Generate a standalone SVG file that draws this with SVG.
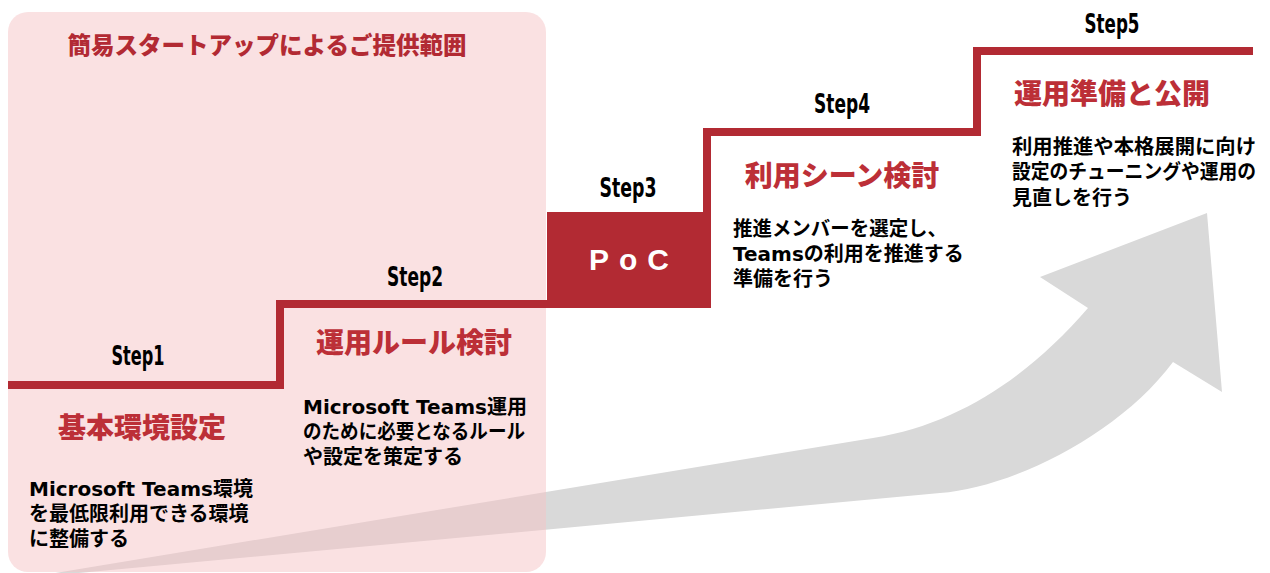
<svg xmlns="http://www.w3.org/2000/svg" width="1270" height="573" viewBox="0 0 1270 573">
  <defs>
    <style>
      .step { font-family: "DejaVu Sans Condensed", "Liberation Sans Narrow", "Liberation Sans", sans-serif; font-weight: bold; font-size: 26px; fill: #000; text-anchor: middle; }
      .ttl { font-family: "Noto Sans CJK JP", sans-serif; font-weight: 900; font-size: 28px; fill: #BC2F37; text-anchor: middle; }
      .desc { font-family: "DejaVu Sans", "Noto Sans CJK JP", sans-serif; font-weight: bold; font-size: 20px; fill: #000; }
      .stair { fill: none; stroke: #B22A33; stroke-width: 8; stroke-linejoin: miter; stroke-linecap: butt; }
    </style>
  </defs>
  <rect width="1270" height="573" fill="#FFFFFF"/>

  <g id="progress-arrow">
    <path d="M 25,578 L 873,438 C 960,424 1030,375 1088,308 L 1040,277 L 1207,213 L 1222,392 L 1173,362 C 1118,436 1010,488 940,493 Z" fill="#D9D9D9"/>
  </g>

  <g id="scope">
    <rect x="8" y="12" width="538" height="560" rx="20" ry="20" fill="#F5C3C5" fill-opacity="0.5"/>
    <text x="267" y="54" font-family="Noto Sans CJK JP, sans-serif" font-weight="900" font-size="23.5" fill="#B22A33" text-anchor="middle">簡易スタートアップによるご提供範囲</text>
  </g>

  <g id="connectors">
    <path class="stair" d="M 8,385 H 280 V 304 H 551"/>
    <path class="stair" d="M 707,216 V 132 H 977 V 51 H 1253"/>
  </g>

  <g id="step1">
    <text class="step" x="138" y="365" textLength="53" lengthAdjust="spacingAndGlyphs">Step1</text>
    <text class="ttl" x="142" y="438">基本環境設定</text>
    <text class="desc" x="29" y="496">Microsoft Teams環境</text>
    <text class="desc" x="29" y="521">を最低限利用できる環境</text>
    <text class="desc" x="29" y="546">に整備する</text>
  </g>

  <g id="step2">
    <text class="step" x="415" y="286" textLength="56" lengthAdjust="spacingAndGlyphs">Step2</text>
    <text class="ttl" x="414" y="353">運用ルール検討</text>
    <text class="desc" x="303" y="414">Microsoft Teams運用</text>
    <text class="desc" x="303" y="439" textLength="222" lengthAdjust="spacingAndGlyphs">のために必要となるルール</text>
    <text class="desc" x="303" y="464">や設定を策定する</text>
  </g>

  <g id="step3">
    <text class="step" x="628" y="197" textLength="57" lengthAdjust="spacingAndGlyphs">Step3</text>
    <rect x="547" y="212" width="164" height="96" fill="#B22A33"/>
    <text x="589" y="270" font-family="Liberation Sans, Arial, sans-serif" font-weight="bold" font-size="30" fill="#FFFFFF" letter-spacing="10">PoC</text>
  </g>

  <g id="step4">
    <text class="step" x="842" y="113" textLength="56" lengthAdjust="spacingAndGlyphs">Step4</text>
    <text class="ttl" x="842" y="186">利用シーン検討</text>
    <text class="desc" x="733" y="236" textLength="214" lengthAdjust="spacingAndGlyphs">推進メンバーを選定し、</text>
    <text class="desc" x="733" y="261">Teamsの利用を推進する</text>
    <text class="desc" x="733" y="286">準備を行う</text>
  </g>

  <g id="step5">
    <text class="step" x="1112" y="33" textLength="55" lengthAdjust="spacingAndGlyphs">Step5</text>
    <text class="ttl" x="1112" y="104">運用準備と公開</text>
    <text class="desc" x="1012" y="154" textLength="244" lengthAdjust="spacingAndGlyphs">利用推進や本格展開に向け</text>
    <text class="desc" x="1012" y="179" textLength="244" lengthAdjust="spacingAndGlyphs">設定のチューニングや運用の</text>
    <text class="desc" x="1012" y="205">見直しを行う</text>
  </g>
</svg>
